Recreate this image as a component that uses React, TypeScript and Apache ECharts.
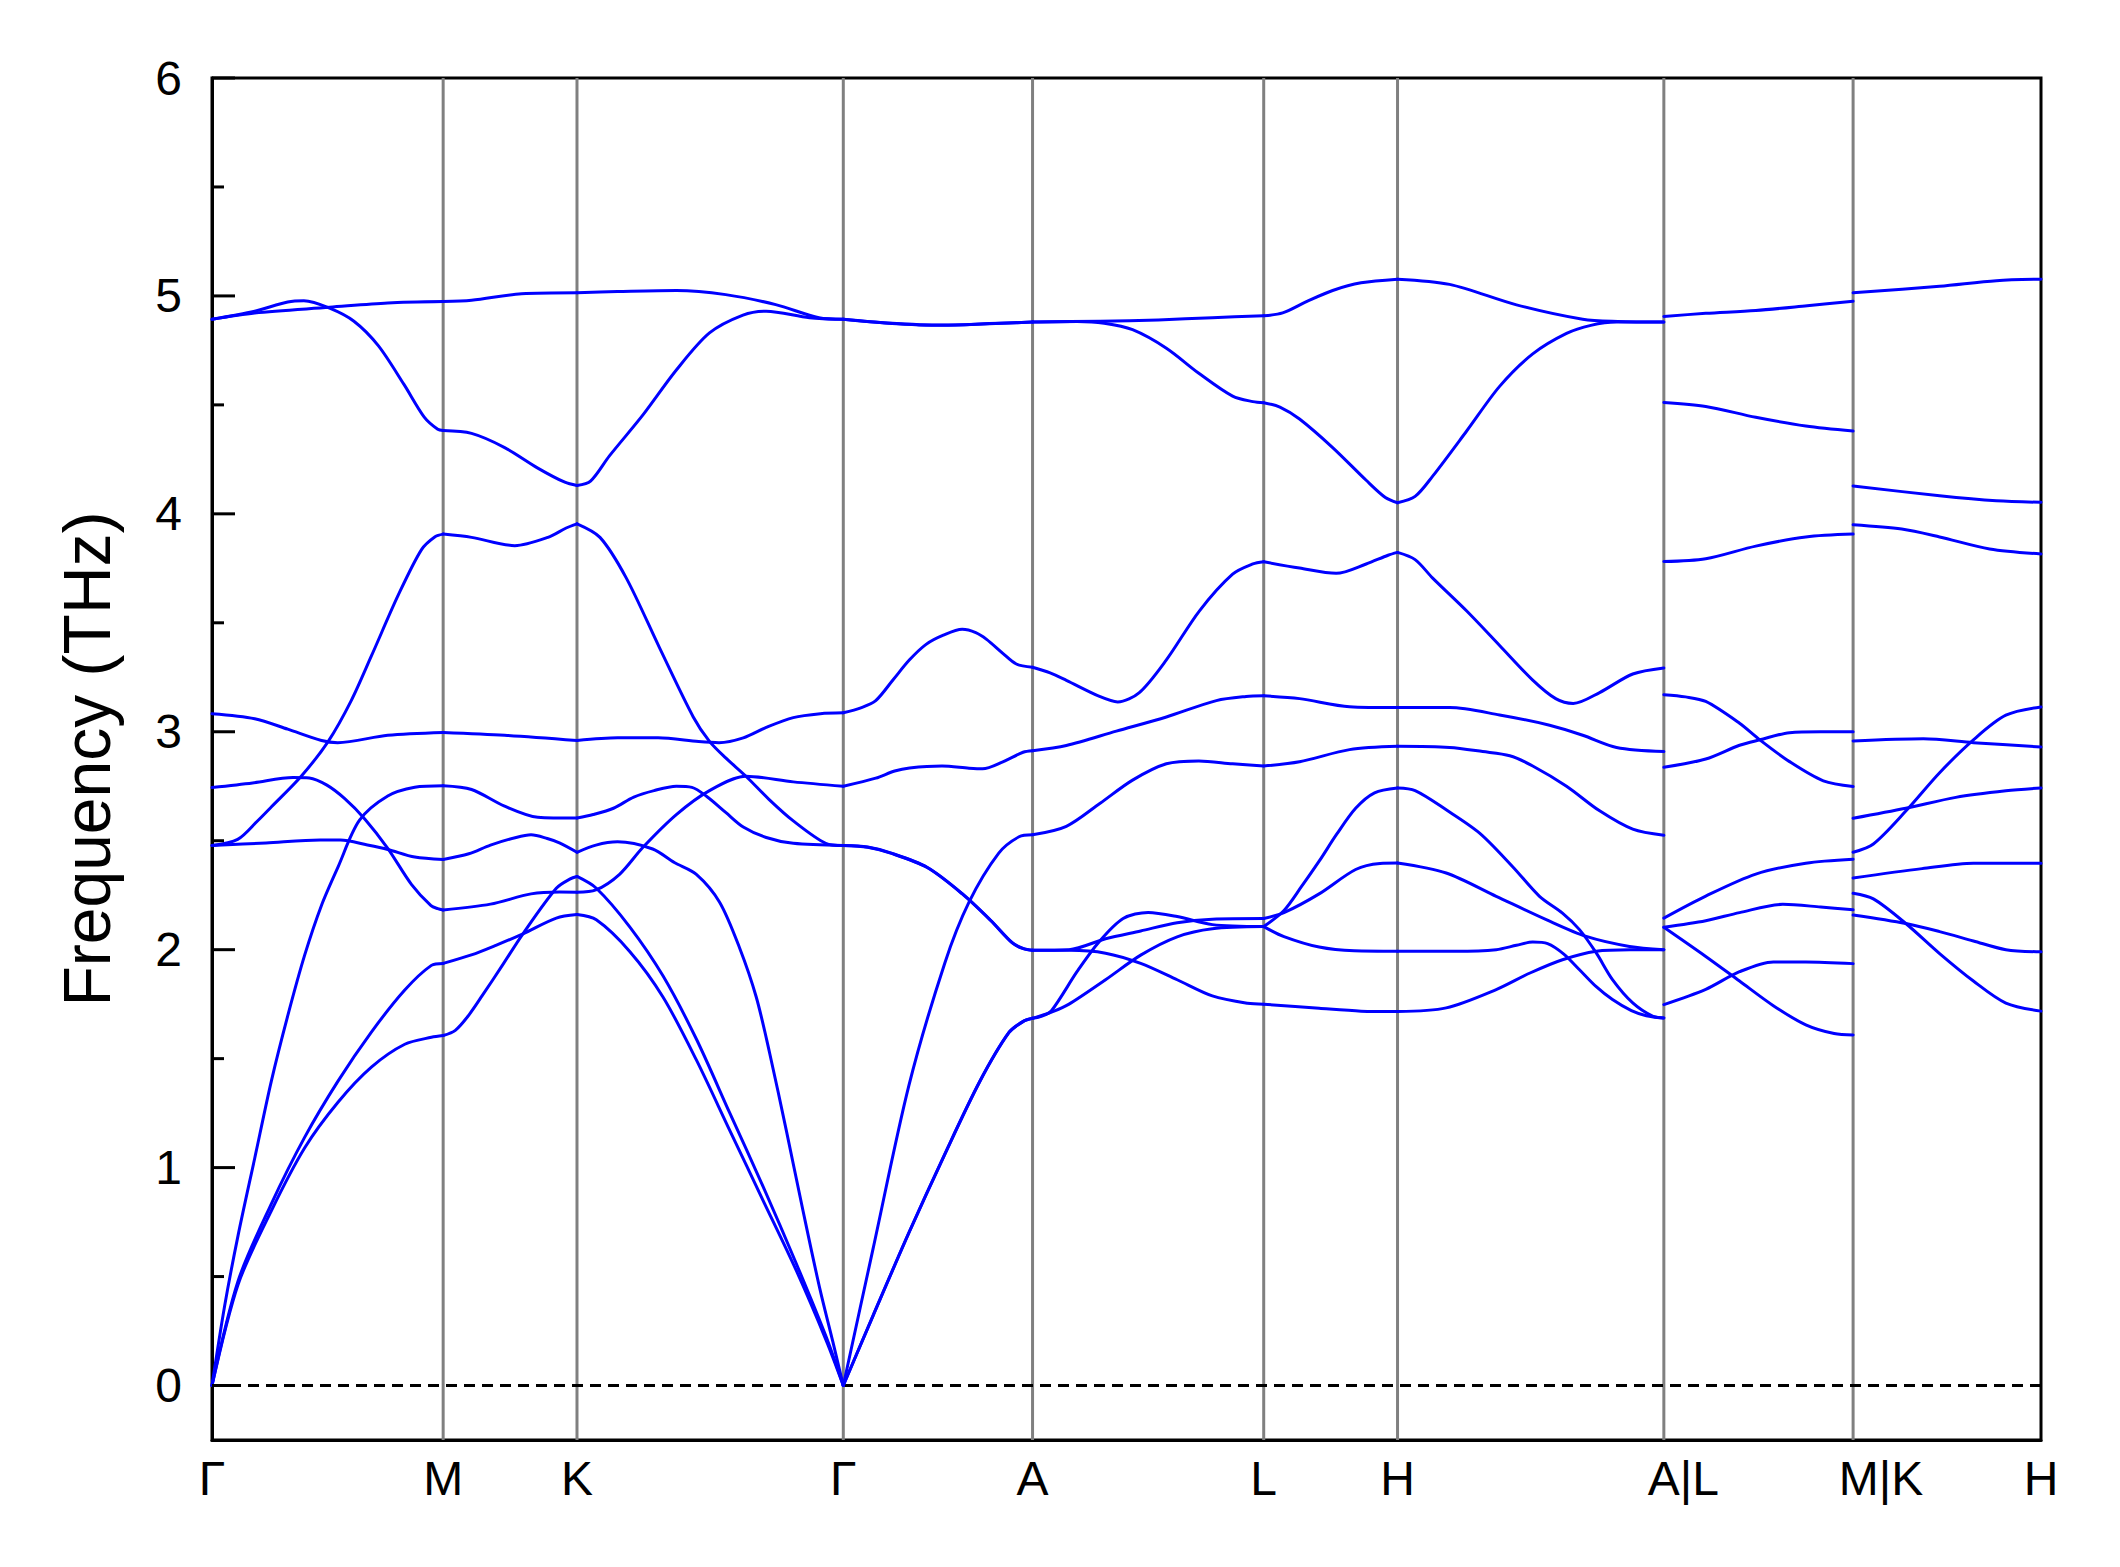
import React, { useEffect, useRef } from "react";
import * as echarts from "echarts";

// High-symmetry path positions (cumulative k-distance, arbitrary units) and labels
const kTicks = [0, 171, 270, 467, 607, 778, 877, 1074, 1214, 1353];
const kLabels = ["Γ", "M", "K", "Γ", "A", "L", "H", "A|L", "M|K", "H"];
const freqTicks = [0, 1, 2, 3, 4, 5, 6];
const freqMinorTicks = [0.5, 1.5, 2.5, 3.5, 4.5, 5.5];
const freqMin = -0.25;
const freqMax = 6;

// Phonon branches (THz) per path section, each curve = [k, frequency] points
const gammaM = [
  [[0, 4.893], [31.6, 4.922], [87, 4.948], [130, 4.968], [171, 4.974]],
  [[0, 4.893], [31.6, 4.93], [56, 4.972], [68, 4.978], [87, 4.944], [105, 4.884], [123, 4.772], [142, 4.594], [157, 4.444], [167, 4.388], [171, 4.382]],
  [[0, 2.478], [19, 2.506], [34, 2.593], [44, 2.656], [66, 2.796], [86, 2.956], [103, 3.143], [118, 3.349], [138, 3.63], [155, 3.836], [165, 3.895], [171, 3.907]],
  [[0, 3.083], [31.6, 3.06], [56, 3.012], [81, 2.96], [93, 2.95], [130, 2.984], [171, 2.997]],
  [[0, 2.744], [30, 2.765], [60, 2.79], [72, 2.788], [85, 2.755], [98, 2.694], [113, 2.6], [130, 2.465], [147.5, 2.3], [162, 2.202], [167, 2.188], [171, 2.182]],
  [[0, 2.478], [40, 2.49], [80, 2.503], [95, 2.503], [115, 2.48], [130, 2.46], [150, 2.425], [171, 2.414]],
  [[0, 0], [9.4, 0.367], [19.3, 0.689], [31.6, 1.043], [43.9, 1.397], [56.3, 1.703], [68.6, 1.976], [80.9, 2.202], [93.2, 2.379], [109, 2.593], [130, 2.705], [150, 2.745], [171, 2.752]],
  [[0, 0], [19.3, 0.48], [43.9, 0.834], [68.6, 1.14], [93.2, 1.397], [117.9, 1.622], [142.6, 1.815], [162.3, 1.928], [171, 1.937]],
  [[0, 0], [19.3, 0.464], [43.9, 0.802], [68.6, 1.091], [93.2, 1.3], [117.9, 1.461], [142.6, 1.566], [162.3, 1.598], [171, 1.606]],
];

const mK = [
  [[171, 4.974], [192, 4.98], [229, 5.01], [270, 5.015]],
  [[171, 4.382], [192, 4.369], [216.5, 4.304], [241, 4.21], [261, 4.145], [270, 4.13]],
  [[171, 3.907], [192, 3.892], [224, 3.854], [248.5, 3.892], [262, 3.935], [270, 3.954]],
  [[171, 2.997], [216.5, 2.984], [270, 2.96]],
  [[171, 2.752], [192, 2.735], [216, 2.66], [241, 2.608], [270, 2.604]],
  [[171, 2.414], [190, 2.44], [206, 2.48], [225, 2.515], [236, 2.527], [248, 2.51], [257, 2.49], [270, 2.447]],
  [[171, 2.182], [206, 2.209], [236, 2.256], [257, 2.265], [270, 2.264]],
  [[171, 1.937], [191.9, 1.976], [210, 2.02], [230, 2.073], [254.7, 2.145], [270, 2.161]],
  [[171, 1.606], [180, 1.63], [190, 1.7], [200, 1.79], [215, 1.93], [230, 2.073], [254.7, 2.282], [265, 2.325], [270, 2.336]],
];

const kGamma = [
  [[270, 5.015], [300, 5.02], [343.5, 5.025], [380, 5.006], [417, 4.96], [449, 4.9], [467, 4.893]],
  [[270, 4.13], [280, 4.15], [294, 4.266], [318.8, 4.454], [343.5, 4.66], [368, 4.83], [392.8, 4.912], [410, 4.93], [442, 4.9], [467, 4.893]],
  [[270, 3.954], [287, 3.892], [306.5, 3.705], [331, 3.386], [356, 3.068], [368, 2.956], [380, 2.88], [395, 2.796], [412, 2.69], [430, 2.591], [454, 2.488], [467, 2.478]],
  [[270, 2.96], [300, 2.972], [330, 2.972], [360, 2.955], [375, 2.95], [393, 2.972], [410, 3.02], [430, 3.065], [450, 3.083], [467, 3.087]],
  [[270, 2.604], [282, 2.62], [297, 2.649], [312, 2.7], [327, 2.73], [343.5, 2.75], [355, 2.745], [366, 2.703], [380, 2.63], [393, 2.563], [410, 2.515], [430, 2.488], [467, 2.478]],
  [[270, 2.447], [284, 2.48], [300, 2.495], [326, 2.462], [342, 2.4], [358.3, 2.346], [375.5, 2.218], [390.3, 2.008], [402.6, 1.783], [412.5, 1.526], [424.8, 1.172], [437.2, 0.802], [449.5, 0.448], [459.3, 0.2], [467, 0]],
  [[270, 2.264], [284, 2.274], [301.5, 2.346], [318.8, 2.47], [343.5, 2.62], [368, 2.73], [395, 2.796], [430, 2.77], [467, 2.75]],
  [[270, 2.336], [284.3, 2.282], [309, 2.105], [333.6, 1.88], [358.3, 1.59], [382.9, 1.252], [407.6, 0.914], [432.2, 0.56], [454.4, 0.222], [467, 0]],
  [[270, 2.161], [284.3, 2.137], [309, 1.992], [333.6, 1.783], [358.3, 1.494], [382.9, 1.172], [407.6, 0.85], [432.2, 0.528], [454.4, 0.206], [467, 0]],
];

const gammaA = [
  [[467, 4.893], [500, 4.875], [540, 4.865], [575, 4.872], [607, 4.88]],
  [[467, 4.893], [500, 4.876], [540, 4.866], [575, 4.873], [607, 4.88]],
  [[467, 3.087], [480, 3.11], [491, 3.143], [504, 3.24], [516, 3.33], [528, 3.4], [541, 3.443], [555, 3.47], [565, 3.455], [573, 3.424], [585, 3.36], [595, 3.311], [607, 3.296]],
  [[467, 2.75], [491, 2.787], [505, 2.82], [516, 2.834], [540, 2.843], [560, 2.833], [570, 2.83], [585, 2.862], [600, 2.906], [607, 2.913]],
  [[467, 2.478], [485, 2.47], [502, 2.443], [529, 2.377], [555, 2.256], [576, 2.134], [592, 2.031], [600, 2.005], [607, 1.997]],
  [[467, 2.478], [485, 2.471], [502, 2.444], [529, 2.378], [555, 2.257], [576, 2.135], [592, 2.032], [600, 2.006], [607, 1.997]],
  [[467, 0], [489, 0.627], [515.5, 1.376], [542, 1.937], [560, 2.218], [582, 2.443], [597, 2.518], [607, 2.527]],
  [[467, 0], [489, 0.32], [515.5, 0.7], [542, 1.06], [568, 1.395], [589.5, 1.619], [600, 1.67], [607, 1.685]],
  [[467, 0], [489, 0.321], [515.5, 0.701], [542, 1.061], [568, 1.396], [589.5, 1.62], [600, 1.671], [607, 1.685]],
];

const aL = [
  [[607, 4.88], [657, 4.884], [700, 4.89], [740, 4.9], [778, 4.909]],
  [[607, 4.88], [640, 4.883], [660, 4.875], [681, 4.845], [706, 4.76], [730, 4.645], [755, 4.54], [770, 4.515], [778, 4.51]],
  [[607, 3.296], [620, 3.27], [632, 3.236], [657, 3.161], [670, 3.137], [686, 3.18], [706, 3.33], [730.5, 3.555], [755, 3.723], [770, 3.77], [778, 3.78]],
  [[607, 2.913], [632, 2.937], [669, 3.003], [706, 3.068], [743, 3.143], [765, 3.162], [778, 3.165]],
  [[607, 2.527], [632, 2.566], [657, 2.672], [681, 2.778], [706, 2.853], [730, 2.866], [755, 2.853], [778, 2.843]],
  [[607, 1.997], [634, 2.0], [661, 2.05], [687, 2.086], [714, 2.124], [740, 2.14], [778, 2.143]],
  [[607, 1.997], [634, 1.997], [661, 1.984], [687, 1.937], [714, 1.862], [740, 1.788], [766, 1.754], [778, 1.75]],
  [[607, 1.685], [614, 1.695], [621, 1.72], [640, 1.9], [655.5, 2.031], [674, 2.143], [692.5, 2.171], [714, 2.152], [740, 2.115], [778, 2.106]],
  [[607, 1.685], [621, 1.713], [634, 1.75], [661, 1.862], [687, 1.975], [714, 2.059], [740, 2.096], [778, 2.106]],
];

const lH = [
  [[778, 4.909], [792, 4.922], [810, 4.975], [829, 5.025], [850, 5.06], [877, 5.077]],
  [[778, 4.51], [790, 4.49], [804.5, 4.435], [829, 4.304], [853.8, 4.154], [868, 4.075], [877, 4.051]],
  [[778, 3.78], [804.5, 3.751], [831.6, 3.727], [853.8, 3.77], [870, 3.81], [877, 3.823]],
  [[778, 3.165], [804.5, 3.152], [841.5, 3.115], [877, 3.111]],
  [[778, 2.843], [804.5, 2.862], [841.5, 2.918], [877, 2.933]],
  [[778, 2.143], [793, 2.17], [819, 2.256], [846, 2.368], [864, 2.396], [877, 2.398]],
  [[778, 2.106], [793, 2.18], [806, 2.29], [819, 2.406], [832, 2.53], [846, 2.649], [860, 2.72], [877, 2.742]],
  [[778, 2.106], [793, 2.06], [819, 2.012], [845, 1.995], [877, 1.993]],
  [[778, 1.75], [819, 1.731], [850, 1.718], [877, 1.716]],
];

const hA = [
  [[877, 5.077], [915.5, 5.053], [965, 4.959], [1014, 4.893], [1040, 4.883], [1074, 4.88]],
  [[877, 4.051], [890, 4.08], [903, 4.173], [928, 4.379], [952.5, 4.585], [977, 4.734], [1002, 4.828], [1020, 4.865], [1039, 4.88], [1074, 4.88]],
  [[877, 3.823], [890, 3.79], [903, 3.705], [928, 3.555], [952.5, 3.396], [977, 3.237], [994, 3.152], [1007, 3.13], [1026.5, 3.18], [1051, 3.265], [1074, 3.293]],
  [[877, 3.111], [915.5, 3.111], [952.5, 3.077], [989.5, 3.03], [1014, 2.984], [1039, 2.928], [1074, 2.909]],
  [[877, 2.933], [915.5, 2.928], [940, 2.909], [960, 2.89], [977, 2.843], [1002, 2.75], [1026.5, 2.637], [1051, 2.553], [1074, 2.525]],
  [[877, 2.742], [890, 2.73], [913, 2.642], [937.7, 2.535], [962, 2.382], [982, 2.245], [999, 2.168], [1011.6, 2.092], [1024, 1.985], [1036, 1.863], [1051, 1.756], [1066, 1.694], [1074, 1.687]],
  [[877, 2.398], [913, 2.352], [950, 2.245], [987, 2.138], [1016.6, 2.061], [1048.6, 2.015], [1074, 2.0]],
  [[877, 1.993], [920, 1.993], [950, 2.0], [965, 2.02], [977, 2.035], [988, 2.028], [1000, 1.98], [1011.6, 1.908], [1024, 1.83], [1036, 1.771], [1050, 1.72], [1061, 1.697], [1074, 1.687]],
  [[877, 1.716], [913, 1.733], [950, 1.817], [975, 1.893], [999, 1.954], [1024, 1.993], [1049, 2.0], [1074, 2.0]],
];

const lM = [
  [[1074, 4.906], [1105, 4.92], [1142, 4.933], [1180, 4.955], [1214, 4.976]],
  [[1074, 4.511], [1105, 4.493], [1142, 4.443], [1179, 4.403], [1214, 4.38]],
  [[1074, 3.781], [1105, 3.794], [1142, 3.852], [1179, 3.894], [1214, 3.907]],
  [[1074, 3.17], [1090, 3.16], [1105, 3.139], [1130, 3.039], [1145, 2.963], [1167, 2.863], [1192, 2.775], [1214, 2.749]],
  [[1074, 2.837], [1105, 2.875], [1130, 2.938], [1145, 2.963], [1167, 2.996], [1190, 3.0], [1214, 3.0]],
  [[1074, 2.145], [1105, 2.246], [1142, 2.347], [1179, 2.397], [1214, 2.415]],
  [[1074, 2.103], [1105, 2.133], [1130, 2.17], [1162, 2.208], [1190, 2.196], [1214, 2.183]],
  [[1074, 2.103], [1105, 1.969], [1130, 1.856], [1155, 1.743], [1179, 1.655], [1200, 1.615], [1214, 1.609]],
  [[1074, 1.748], [1105, 1.818], [1130, 1.899], [1155, 1.944], [1179, 1.944], [1214, 1.936]],
];

const kH = [
  [[1214, 5.014], [1278, 5.044], [1320, 5.07], [1353, 5.077]],
  [[1214, 4.128], [1278, 4.083], [1320, 4.06], [1353, 4.053]],
  [[1214, 3.95], [1250, 3.93], [1278, 3.894], [1315, 3.839], [1353, 3.816]],
  [[1214, 2.958], [1266, 2.968], [1303, 2.95], [1353, 2.93]],
  [[1214, 2.603], [1253, 2.649], [1290, 2.699], [1327, 2.729], [1353, 2.742]],
  [[1214, 2.447], [1229, 2.485], [1253, 2.636], [1278, 2.812], [1303, 2.963], [1327, 3.076], [1353, 3.114]],
  [[1214, 2.329], [1265, 2.372], [1303, 2.397], [1353, 2.397]],
  [[1214, 2.259], [1229, 2.233], [1253, 2.12], [1278, 1.982], [1303, 1.856], [1327, 1.755], [1353, 1.718]],
  [[1214, 2.159], [1253, 2.12], [1278, 2.083], [1303, 2.04], [1327, 2.0], [1353, 1.99]],
];

const sections = [gammaM, mK, kGamma, gammaA, aL, lH, hA, lM, kH];

const FONT = "'Liberation Sans', Arial, sans-serif";

function buildOption() {
  const series: any[] = [];
  // vertical high-symmetry guide lines
  kTicks.slice(1, -1).forEach((k) => {
    series.push({
      type: "line",
      data: [[k, freqMin], [k, freqMax]],
      symbol: "none",
      silent: true,
      z: 1,
      lineStyle: { color: "#808080", width: 3 },
    });
  });
  // zero-frequency dashed line
  series.push({
    type: "line",
    data: [[kTicks[0], 0], [kTicks[kTicks.length - 1], 0]],
    symbol: "none",
    silent: true,
    z: 2,
    lineStyle: { color: "#000000", width: 3, type: [11, 7] },
  });
  sections.forEach((sec) => {
    sec.forEach((curve) => {
      series.push({
        type: "line",
        data: curve,
        symbol: "none",
        smooth: 0.3,
        silent: true,
        z: 3,
        lineStyle: { color: "#0000ff", width: 3, cap: "round", join: "round" },
      });
    });
  });
  // inward frequency-axis ticks (major at integers, minor at halves), placed via the axis scale
  const tickSeries = (values: number[], len: number) => ({
    type: "custom",
    silent: true,
    clip: false,
    z: 4,
    data: values.map((v) => [kTicks[0], v]),
    renderItem: (params: any, api: any) => {
      const p = api.coord([api.value(0), api.value(1)]);
      return {
        type: "line",
        shape: { x1: p[0], y1: p[1], x2: p[0] + len, y2: p[1] },
        style: { stroke: "#000000", lineWidth: 3 },
      };
    },
  });
  series.push(tickSeries(freqTicks, 23));
  series.push(tickSeries(freqMinorTicks, 12));

  const labelFor = (v: number) => {
    const i = kTicks.findIndex((k) => Math.abs(k - v) < 0.5);
    if (i < 0) return "";
    const t = kLabels[i];
    if (t === "A|L") return "{al|" + t + "}";
    if (t === "M|K") return "{mk|" + t + "}";
    return t;
  };

  return {
    animation: false,
    backgroundColor: "#ffffff",
    grid: {
      left: 212,
      top: 78,
      right: 79,
      bottom: 127,
      show: true,
      borderColor: "#000000",
      borderWidth: 3,
      backgroundColor: "transparent",
    },
    xAxis: {
      type: "value",
      min: kTicks[0],
      max: kTicks[kTicks.length - 1],
      axisLine: { show: true, onZero: false, lineStyle: { color: "#000000", width: 3 } },
      axisTick: { show: false },
      splitLine: { show: false },
      axisLabel: {
        customValues: kTicks,
        formatter: labelFor,
        color: "#000000",
        fontSize: 48,
        fontFamily: FONT,
        margin: 14,
        rich: {
          al: { fontSize: 48, fontFamily: FONT, color: "#000000", padding: [0, 0, 0, 39] },
          mk: { fontSize: 48, fontFamily: FONT, color: "#000000", padding: [0, 0, 0, 56] },
        },
      },
    },
    yAxis: {
      type: "value",
      min: freqMin,
      max: freqMax,
      position: "left",
      name: "Frequency (THz)",
      nameLocation: "middle",
      nameGap: 92,
      nameTextStyle: { fontSize: 66, fontFamily: FONT, color: "#000000" },
      axisLine: { show: true, onZero: false, lineStyle: { color: "#000000", width: 3 } },
      axisTick: { show: false },
      axisLabel: {
        customValues: freqTicks,
        color: "#000000",
        fontSize: 48,
        fontFamily: FONT,
        margin: 30,
      },
      splitLine: { show: false },
    },
    series,
  };
}

export default function App() {
  const ref = useRef<HTMLDivElement>(null);
  useEffect(() => {
    if (!ref.current) return;
    const chart = echarts.init(ref.current, null, { renderer: "svg" });
    chart.setOption(buildOption());
    return () => chart.dispose();
  }, []);
  return (
    <div
      ref={ref}
      style={{ position: "absolute", left: 0, top: 0, width: 2120, height: 1567, background: "#ffffff" }}
    />
  );
}
